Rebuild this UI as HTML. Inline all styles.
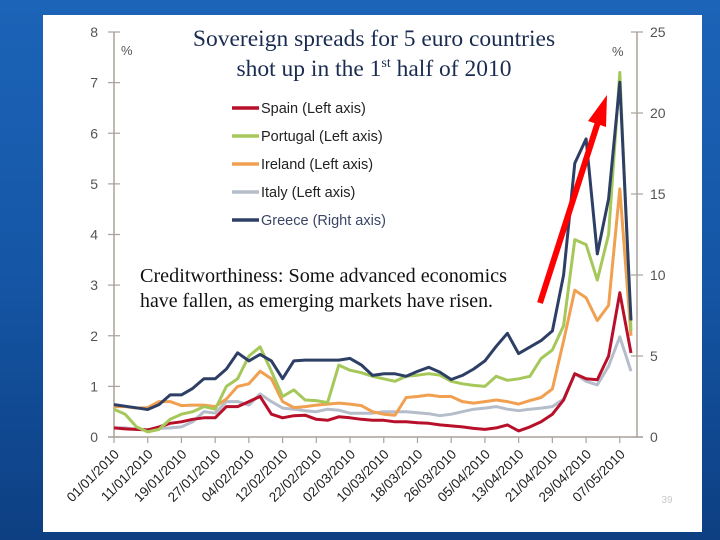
<!DOCTYPE html>
<html><head><meta charset="utf-8"><style>
html,body{margin:0;padding:0;}
body{width:720px;height:540px;overflow:hidden;background:linear-gradient(180deg,#1c64b8 0%,#1556a6 50%,#0d3f82 100%);}
svg{display:block;}
</style></head><body>
<svg id="chart" width="720" height="540" xmlns="http://www.w3.org/2000/svg">
<rect x="43" y="15" width="659" height="517" fill="#ffffff"/>
<g id="axes"></g>
<g id="series"></g>
<g id="legend"></g>
<text x="374" y="46" text-anchor="middle" font-family="Liberation Serif, serif" font-size="23.5" fill="#1b2c52">Sovereign spreads for 5 euro countries</text>
<text x="374" y="76" text-anchor="middle" font-family="Liberation Serif, serif" font-size="23.5" fill="#1b2c52">shot up in the 1<tspan font-size="14" dy="-9">st</tspan><tspan dy="9"> half of 2010</tspan></text>
<text x="140" y="282" font-family="Liberation Serif, serif" font-size="20" textLength="367" lengthAdjust="spacingAndGlyphs" fill="#111">Creditworthiness:  Some advanced economics</text>
<text x="140" y="307" font-family="Liberation Serif, serif" font-size="20" textLength="353" lengthAdjust="spacingAndGlyphs" fill="#111">have fallen, as emerging markets have risen.</text>
<g>
<line x1="540" y1="303" x2="598" y2="122" stroke="#ff0000" stroke-width="6"/>
<polygon points="607,95 588,121 606,127" fill="#ff0000"/>
</g>
<text x="667" y="503" font-family="Liberation Sans, sans-serif" font-size="10" fill="#c8c8c8" text-anchor="middle">39</text>
</svg>
<script>
const dateLabels=["01/01/2010","11/01/2010","19/01/2010","27/01/2010","04/02/2010","12/02/2010","22/02/2010","02/03/2010","10/03/2010","18/03/2010","26/03/2010","05/04/2010","13/04/2010","21/04/2010","29/04/2010","07/05/2010"];
const leftTicks=[0,1,2,3,4,5,6,7,8];
const rightTicks=[0,5,10,15,20,25];
const spain=[0.18,0.16,0.15,0.14,0.2,0.27,0.3,0.35,0.38,0.38,0.6,0.6,0.7,0.8,0.45,0.38,0.42,0.43,0.35,0.33,0.4,0.38,0.35,0.33,0.33,0.3,0.3,0.28,0.27,0.24,0.22,0.2,0.17,0.15,0.18,0.24,0.12,0.2,0.3,0.45,0.73,1.25,1.15,1.13,1.6,2.85,1.66];
const portugal=[0.55,0.45,0.2,0.1,0.15,0.35,0.45,0.5,0.6,0.55,1.0,1.15,1.6,1.78,1.3,0.8,0.93,0.73,0.72,0.68,1.42,1.32,1.27,1.2,1.15,1.1,1.2,1.22,1.25,1.22,1.1,1.05,1.02,1.0,1.2,1.12,1.15,1.2,1.55,1.72,2.2,3.9,3.8,3.1,4.0,7.2,2.1];
const ireland=[0.6,0.6,0.57,0.58,0.7,0.7,0.62,0.63,0.63,0.6,0.75,1.0,1.05,1.3,1.15,0.7,0.58,0.6,0.63,0.65,0.67,0.65,0.62,0.5,0.45,0.43,0.78,0.8,0.83,0.8,0.8,0.7,0.67,0.7,0.73,0.7,0.65,0.72,0.78,0.95,1.9,2.9,2.75,2.3,2.6,4.9,2.0];
const italy=[0.18,0.18,0.15,0.14,0.17,0.18,0.2,0.3,0.5,0.47,0.7,0.7,0.63,0.85,0.7,0.57,0.55,0.52,0.5,0.55,0.53,0.47,0.47,0.47,0.5,0.5,0.5,0.48,0.46,0.42,0.45,0.5,0.55,0.57,0.6,0.55,0.52,0.55,0.57,0.6,0.75,1.25,1.1,1.03,1.4,1.98,1.3];
const greece=[2.0,1.9,1.8,1.7,2.0,2.6,2.6,3.0,3.6,3.6,4.2,5.2,4.7,5.1,4.7,3.6,4.7,4.75,4.75,4.75,4.75,4.85,4.45,3.8,3.9,3.9,3.75,4.05,4.3,4.0,3.55,3.8,4.2,4.7,5.6,6.4,5.15,5.55,5.95,6.55,10.0,16.9,18.4,11.3,14.7,21.9,7.2];
const seriesNames=["Spain (Left axis)","Portugal (Left axis)","Ireland (Left axis)","Italy (Left axis)","Greece (Right axis)"];

const NS="http://www.w3.org/2000/svg";
const X0=114,X1=637,Y0=437,Y1=32,DAY=5.62;
function xScale(i){return X0+i*2*DAY;}
function xTick(j){return X0+j*6*DAY;}
function yLeft(v){return Y0-(v/8)*(Y0-Y1);}
function yRight(v){return Y0-(v/25)*(Y0-Y1);}
function mk(tag,attrs,parent){const e=document.createElementNS(NS,tag);for(const k in attrs)e.setAttribute(k,attrs[k]);parent.appendChild(e);return e;}
const axes=document.getElementById('axes');
const AX="#a8a29a";
let l=mk('line',{x1:X0,y1:Y1,x2:X0,y2:Y0,stroke:AX,'stroke-width':1.5},axes);


l=mk('line',{x1:X1,y1:Y1,x2:X1,y2:Y0,stroke:AX,'stroke-width':1.5},axes);


l=mk('line',{x1:X0-6,y1:Y0,x2:X1+6,y2:Y0,stroke:AX,'stroke-width':1.5},axes);


leftTicks.forEach(v=>{const y=yLeft(v);
 mk('line',{x1:X0-6,y1:y,x2:X0+6,y2:y,stroke:AX,'stroke-width':1.2},axes);
 const t=mk('text',{x:X0-16,y:y+5,'text-anchor':'end','font-family':'Liberation Sans, sans-serif','font-size':14,fill:'#555'},axes);
 t.textContent=v;
 
 });
rightTicks.forEach(v=>{const y=yRight(v);
 mk('line',{x1:X1-6,y1:y,x2:X1+6,y2:y,stroke:AX,'stroke-width':1.2},axes);
 const t=mk('text',{x:X1+13,y:y+5,'font-family':'Liberation Sans, sans-serif','font-size':14,fill:'#555'},axes);
 t.textContent=v;
 
 });
let u=mk('text',{x:121,y:55,'font-family':'Liberation Sans, sans-serif','font-size':13,fill:'#555'},axes);u.textContent='%';


u=mk('text',{x:612,y:56,'font-family':'Liberation Sans, sans-serif','font-size':13,fill:'#555'},axes);u.textContent='%';


dateLabels.forEach((d,j)=>{const x=xTick(j);
 mk('line',{x1:x,y1:Y0,x2:x,y2:Y0+6,stroke:AX,'stroke-width':1.2},axes);
 const t=mk('text',{x:x+6,y:Y0+18,'text-anchor':'end','font-family':'Liberation Sans, sans-serif','font-size':13.5,fill:'#222',transform:`rotate(-45 ${x+6} ${Y0+18})`},axes);
 t.textContent=d;
 
 });
const sg=document.getElementById('series');
function line(vals,scale,color,name){const pts=vals.map((v,i)=>xScale(i).toFixed(1)+','+scale(v).toFixed(1)).join(' ');
 const p=mk('polyline',{points:pts,fill:'none',stroke:color,'stroke-width':3,'stroke-linejoin':'round'},sg);
 
 }
line(italy,yLeft,'#b5bdca','italy-line');
line(spain,yLeft,'#b8102a','spain-line');
line(ireland,yLeft,'#f0a050','ireland-line');
line(portugal,yLeft,'#a6c85a','portugal-line');
line(greece,yRight,'#2e3f66','greece-line');
const colors=['#b8102a','#a6c85a','#f0a050','#b5bdca','#2e3f66'];
const lg=document.getElementById('legend');
seriesNames.forEach((n,i)=>{const y=108+i*28;
 const s=mk('line',{x1:232,y1:y,x2:259,y2:y,stroke:colors[i],'stroke-width':3.5},lg);
 
 
 const t=mk('text',{x:261,y:y+5,'font-family':'Liberation Sans, sans-serif','font-size':14.5,fill:i==4?'#3a4666':'#222'},lg);
 t.textContent=n;
 
 });
</script>
</body></html>
